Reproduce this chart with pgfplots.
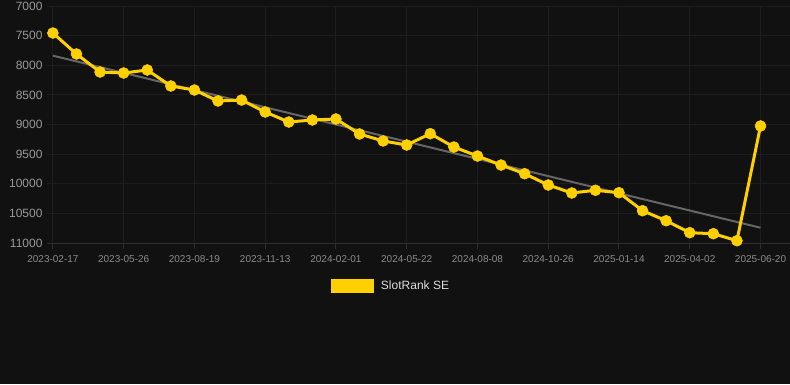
\documentclass[border=0pt]{standalone}
\usepackage{pgfplots}
\pgfplotsset{compat=1.18}
\usepackage{fontspec}
\setmainfont{Liberation Sans}
\definecolor{bg}{HTML}{111111}
\definecolor{gridc}{HTML}{1D1D1D}
\definecolor{axc}{HTML}{2E2E2E}
\definecolor{ylw}{HTML}{FFD000}
\definecolor{trend}{HTML}{666666}
\definecolor{ticklab}{HTML}{999999}
\definecolor{xticklab}{HTML}{8C8C8C}
\definecolor{legtext}{HTML}{DDDDDD}
\begin{document}
\begin{tikzpicture}[x=1pt,y=1pt]
\useasboundingbox (0,0) rectangle (790,384);
\fill[bg] (0,0) rectangle (790,384);
\begin{axis}[
  at={(47pt,141pt)}, anchor=south west,
  scale only axis, width=743pt, height=237pt,
  xmin=-0.25, xmax=31.25, ymin=7000, ymax=11000, y dir=reverse,
  axis line style={draw=none},
  xtick={0,3,...,30},
  xticklabels={2023-02-17,2023-05-26,2023-08-19,2023-11-13,2024-02-01,2024-05-22,2024-08-08,2024-10-26,2025-01-14,2025-04-02,2025-06-20},
  ytick={7000,7500,...,11000},
  scaled y ticks=false,
  /pgf/number format/1000 sep={},
  /pgf/number format/assume math mode=true,
  xmajorgrids, ymajorgrids,
  grid style={gridc, line width=1pt},
  xtick pos=left, ytick pos=left,
  ytick style={draw=none},
  xtick style={axc, line width=1pt},
  tick align=outside, major tick length=6pt,
  yticklabel style={font=\fontsize{12}{14}\selectfont, text=ticklab, xshift=5pt},
  xticklabel style={font=\fontsize{10}{12}\selectfont, text=xticklab, yshift=-3pt},
  legend style={at={(axis description cs:0.463,-0.182)}, anchor=center, draw=none, fill=none, text=legtext, font=\fontsize{12}{14}\selectfont},
  legend image code/.code={\fill[ylw] (0pt,-5.5pt) rectangle (40pt,5.5pt);},
  clip=false,
]
\draw[axc, line width=1pt] (axis cs:-0.25,11000) -- (axis cs:31.25,11000);
\addplot[trend, line width=2pt, forget plot] coordinates {(0,7838) (30,10742)};
\addplot[ylw, line width=3pt, mark=*, mark size=5.5pt, mark options={fill=ylw, draw=ylw, line width=0.5pt}] coordinates {
(0,7456) (1,7810) (2,8114) (3,8131) (4,8080) (5,8350) (6,8418) (7,8603) (8,8587) (9,8789)
(10,8958) (11,8924) (12,8907) (13,9160) (14,9278) (15,9346) (16,9155) (17,9380) (18,9532) (19,9684)
(20,9830) (21,10021) (22,10156) (23,10110) (24,10151) (25,10455) (26,10624) (27,10826) (28,10843) (29,10961)
(30,9025)};
\addlegendentry{\hspace{5pt}SlotRank SE}
\end{axis}
\end{tikzpicture}
\end{document}
